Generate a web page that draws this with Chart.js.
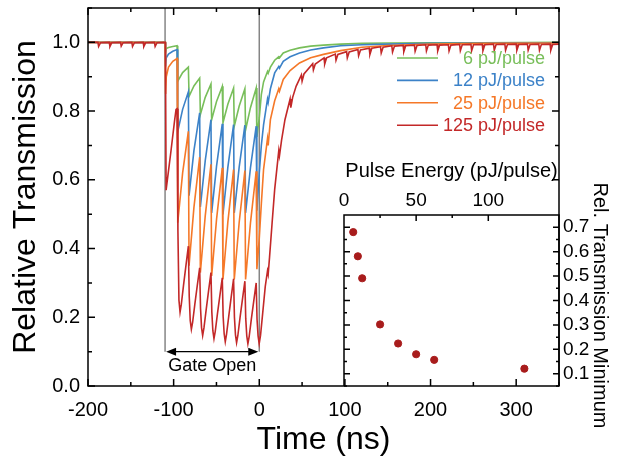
<!DOCTYPE html>
<html>
<head>
<meta charset="utf-8">
<script src="https://cdn.jsdelivr.net/npm/chart.js@4.4.0/dist/chart.umd.min.js"></script>
<style>
  html, body { margin: 0; padding: 0; background: #fff; }
  #wrap { position: relative; width: 623px; height: 461px; }
  #mainChart { position: absolute; left: 0; top: 0; }
  #insetChart { position: absolute; left: 330px; top: 150px; }
</style>
</head>
<body>
<div id="wrap">
  <canvas id="mainChart" width="623" height="461"></canvas>
  <canvas id="insetChart" width="293" height="290"></canvas>
</div>
<script>
Chart.defaults.font.family = '"Liberation Sans", Arial, sans-serif';
Chart.defaults.color = '#000';

// series labels / colours
const seriesLabels = ['6 pJ/pulse', '12 pJ/pulse', '25 pJ/pulse', '125 pJ/pulse'];
const seriesColors = ['#78be5a', '#3c82c8', '#f57828', '#c32828'];

// time axis (ns) shared by the 6, 12 and 25 pJ traces
const sawTimes = [-200, -110.0, -109.4, -108.6, -106, -101,
  -96, -95.2, -89.5,
  -82.8, -82.0, -76.3,
  -69.6, -68.8, -63.1,
  -56.4, -55.6, -49.9,
  -43.2, -42.4, -36.7,
  -30.0, -29.2, -23.5,
  -16.8, -16.0, -10.3,
  -3.6, -2.8,
  0, 2.4, 5, 9.6, 10.4, 13, 18, 22.8, 23.6, 28, 36, 47, 60, 75, 95, 120, 150, 200, 260, 350];

const green6 = [1.0, 1.0, 0.97, 0.982, 0.985, 0.988,
  0.99, 0.887, 0.912,
  0.928, 0.843, 0.873,
  0.896, 0.79, 0.84,
  0.879, 0.775, 0.828,
  0.872, 0.766, 0.82,
  0.867, 0.756, 0.814,
  0.865, 0.745, 0.81,
  0.867, 0.725,
  0.78, 0.848, 0.885, 0.915, 0.91, 0.928, 0.948, 0.958, 0.955, 0.969, 0.977, 0.984, 0.989, 0.992, 0.995, 0.997, 0.998, 0.999, 0.999, 1.0];

const blue12 = [1.0, 1.0, 0.93, 0.955, 0.966, 0.974,
  0.979, 0.741, 0.805,
  0.856, 0.554, 0.685,
  0.795, 0.521, 0.656,
  0.775, 0.504, 0.64,
  0.763, 0.499, 0.636,
  0.761, 0.504, 0.636,
  0.759, 0.504, 0.635,
  0.756, 0.51,
  0.62, 0.70, 0.76, 0.835, 0.825, 0.865, 0.911, 0.93, 0.925, 0.945, 0.958, 0.969, 0.978, 0.984, 0.99, 0.993, 0.995, 0.997, 0.998, 0.999];

const orange25 = [1.0, 1.0, 0.85, 0.9, 0.928, 0.945,
  0.953, 0.475, 0.62,
  0.741, 0.35, 0.52,
  0.666, 0.33, 0.495,
  0.645, 0.32, 0.485,
  0.635, 0.31, 0.477,
  0.63, 0.31, 0.475,
  0.627, 0.31, 0.474,
  0.625, 0.34,
  0.43, 0.53, 0.63, 0.72, 0.70, 0.775, 0.83, 0.865, 0.858, 0.892, 0.918, 0.94, 0.955, 0.965, 0.976, 0.986, 0.991, 0.995, 0.997, 0.998];

// 125 pJ trace has its own time axis (rounded minima + dips from every pulse)
const redTimes = [-200,
  -188.4, -187.6, -185.4,
  -175.2, -174.4, -172.2,
  -162.0, -161.2, -159.0,
  -148.8, -148.0, -145.8,
  -135.6, -134.8, -132.6,
  -122.4, -121.6, -119.4,
  -109.6, -108.8, -107.5, -103, -99, -97.2,
  -96, -95, -93.8, -92.5, -91, -88.5, -85.5,
  -82.8, -81.8, -80.6, -79.3, -77.8, -75.3, -72.3,
  -69.6, -68.6, -67.4, -66.1, -64.6, -62.1, -59.1,
  -56.4, -55.4, -54.2, -52.9, -51.4, -48.9, -45.9,
  -43.2, -42.2, -41.0, -39.7, -38.2, -35.7, -32.7,
  -30.0, -29.0, -27.8, -26.5, -25.0, -22.5, -19.5,
  -16.8, -15.8, -14.6, -13.3, -11.8, -9.3, -6.3,
  -3.6, -2.6, -1.4, -0.1,
  1.5, 4.0, 7.0, 9.6, 10.4, 12.0, 15.0, 18.0,
  22.8, 23.6, 26.0, 30.0,
  36.0, 36.8, 39.0, 43.0,
  49.2, 50.0, 52.2,
  62.4, 63.2, 65.4,
  75.6, 76.4, 78.6,
  88.8, 89.6, 91.8,
  102.0, 102.8, 105.0,
  115.2, 116.0, 118.2,
  128.4, 129.2, 131.4,
  141.6, 142.4, 144.6,
  154.8, 155.6, 157.8,
  168.0, 168.8, 171.0,
  181.2, 182.0, 184.2,
  194.4, 195.2, 197.4,
  207.6, 208.4, 210.6,
  220.8, 221.6, 223.8,
  234.0, 234.8, 237.0,
  247.2, 248.0, 250.2,
  260.4, 261.2, 263.4,
  273.6, 274.4, 276.6,
  286.8, 287.6, 289.8,
  300.0, 300.8, 303.0,
  313.2, 314.0, 316.2,
  326.4, 327.2, 329.4,
  339.6, 340.4, 342.6,
  350];

const red125 = [1.0,
  1.0, 0.988, 0.999,
  1.0, 0.988, 0.999,
  1.0, 0.989, 0.999,
  1.0, 0.988, 0.999,
  1.0, 0.988, 0.999,
  1.0, 0.988, 0.999,
  1.0, 0.57, 0.596, 0.686, 0.77, 0.805,
  0.807, 0.452, 0.25, 0.215, 0.238, 0.292, 0.353,
  0.407, 0.262, 0.19, 0.165, 0.186, 0.237, 0.294,
  0.344, 0.226, 0.17, 0.147, 0.169, 0.22, 0.279,
  0.33, 0.215, 0.161, 0.138, 0.159, 0.209, 0.265,
  0.315, 0.203, 0.152, 0.129, 0.151, 0.202, 0.261,
  0.312, 0.2, 0.149, 0.126, 0.147, 0.198, 0.255,
  0.305, 0.196, 0.146, 0.123, 0.144, 0.194, 0.25,
  0.30, 0.194, 0.146, 0.123,
  0.148, 0.212, 0.29, 0.335, 0.325, 0.375, 0.475, 0.572,
  0.685, 0.67, 0.715, 0.775,
  0.835, 0.81, 0.84, 0.872,
  0.905, 0.887, 0.908,
  0.938, 0.92, 0.937,
  0.955, 0.937, 0.955,
  0.966, 0.948, 0.965,
  0.973, 0.955, 0.972,
  0.979, 0.961, 0.978,
  0.983, 0.965, 0.983,
  0.987, 0.969, 0.986,
  0.99, 0.972, 0.989,
  0.991, 0.973, 0.99,
  0.992, 0.974, 0.991,
  0.993, 0.975, 0.992,
  0.993, 0.975, 0.992,
  0.993, 0.975, 0.992,
  0.994, 0.976, 0.993,
  0.994, 0.976, 0.993,
  0.994, 0.976, 0.993,
  0.995, 0.977, 0.994,
  0.995, 0.977, 0.994,
  0.995, 0.977, 0.994,
  0.995, 0.977, 0.994,
  0.995, 0.977, 0.994,
  0.995, 0.977, 0.994,
  0.995];

// gate window (ns) and label
const gateTimes = [-110, 0];
const gateLabel = 'Gate Open';

// inset: minimum transmission vs pulse energy
const pulseEnergy = [6.4, 9.6, 12.6, 25, 37.5, 50, 62.5, 125];
const transMin = [0.68, 0.581, 0.491, 0.302, 0.224, 0.18, 0.157, 0.121];
const insetXTitle = 'Pulse Energy (pJ/pulse)';
const insetYTitle = 'Rel. Transmission Minimum';

const toXY = (xs, ys) => xs.map((x, i) => ({ x: x, y: ys[i] }));
const font = size => size + 'px "Liberation Sans", Arial, sans-serif';

// frame, inward ticks, gate marker and legend for the main plot
const mainDecor = {
  id: 'mainDecor',
  beforeDatasetsDraw(chart) {
    const { ctx, chartArea: a, scales: { x, y } } = chart;
    ctx.save();
    ctx.strokeStyle = '#858585';
    ctx.lineWidth = 1.5;
    gateTimes.forEach(t => {
      const px = x.getPixelForValue(t);
      ctx.beginPath();
      ctx.moveTo(px, a.top);
      ctx.lineTo(px, y.getPixelForValue(0.1));
      ctx.stroke();
    });
    ctx.restore();
  },
  afterDraw(chart) {
    const { ctx, chartArea: a, scales: { x, y } } = chart;
    ctx.save();
    ctx.strokeStyle = '#000';
    ctx.lineWidth = 1.5;
    ctx.strokeRect(a.left, a.top, a.right - a.left, a.bottom - a.top);
    ctx.beginPath();
    x.ticks.forEach(t => {
      const px = x.getPixelForValue(t.value);
      const len = t.value % 100 === 0 ? 7 : 4;
      ctx.moveTo(px, a.bottom); ctx.lineTo(px, a.bottom - len);
      ctx.moveTo(px, a.top); ctx.lineTo(px, a.top + len);
    });
    y.ticks.forEach(t => {
      const py = y.getPixelForValue(t.value);
      const len = Math.round(t.value * 10) % 2 === 0 ? 7 : 4;
      ctx.moveTo(a.left, py); ctx.lineTo(a.left + len, py);
      if (t.value > 0.55) { ctx.moveTo(a.right, py); ctx.lineTo(a.right - len, py); }
    });
    ctx.stroke();

    // double arrow under the gate window
    const x1 = x.getPixelForValue(gateTimes[0]);
    const x2 = x.getPixelForValue(gateTimes[1]);
    const ay = y.getPixelForValue(0.1);
    ctx.lineWidth = 1.3;
    ctx.beginPath();
    ctx.moveTo(x1 + 4, ay); ctx.lineTo(x2 - 4, ay);
    ctx.stroke();
    ctx.fillStyle = '#000';
    ctx.beginPath();
    ctx.moveTo(x1 + 1, ay); ctx.lineTo(x1 + 11, ay - 4); ctx.lineTo(x1 + 11, ay + 4); ctx.closePath();
    ctx.moveTo(x2 - 1, ay); ctx.lineTo(x2 - 11, ay - 4); ctx.lineTo(x2 - 11, ay + 4); ctx.closePath();
    ctx.fill();
    ctx.font = font(18);
    ctx.textAlign = 'center';
    ctx.textBaseline = 'middle';
    ctx.fillText(gateLabel, (x1 + x2) / 2, y.getPixelForValue(0.058));

    // legend
    ctx.textAlign = 'right';
    ctx.lineWidth = 1.6;
    seriesLabels.forEach((lab, i) => {
      const ly = a.top + 50 + i * 22.4;
      ctx.strokeStyle = seriesColors[i];
      ctx.beginPath();
      ctx.moveTo(a.right - 162, ly); ctx.lineTo(a.right - 121, ly);
      ctx.stroke();
      ctx.fillStyle = seriesColors[i];
      ctx.fillText(lab, a.right - 14, ly + 1);
    });
    ctx.restore();
  }
};

const lineStyle = { borderWidth: 1.6, pointRadius: 0, tension: 0, fill: false };

new Chart(document.getElementById('mainChart'), {
  type: 'line',
  data: {
    datasets: [
      Object.assign({ label: seriesLabels[0], data: toXY(sawTimes, green6), borderColor: seriesColors[0], order: 3 }, lineStyle),
      Object.assign({ label: seriesLabels[1], data: toXY(sawTimes, blue12), borderColor: seriesColors[1], order: 2 }, lineStyle),
      Object.assign({ label: seriesLabels[2], data: toXY(sawTimes, orange25), borderColor: seriesColors[2], order: 1 }, lineStyle),
      Object.assign({ label: seriesLabels[3], data: toXY(redTimes, red125), borderColor: seriesColors[3], order: 0 }, lineStyle)
    ]
  },
  options: {
    responsive: false,
    animation: false,
    layout: { padding: { top: 8, right: 64, left: 0, bottom: 0 } },
    plugins: { legend: { display: false }, tooltip: { enabled: false } },
    scales: {
      x: {
        type: 'linear', min: -200, max: 350,
        grid: { display: false, drawTicks: false },
        border: { display: false },
        ticks: {
          stepSize: 50, autoSkip: false, maxRotation: 0, padding: 12,
          font: { size: 20 },
          callback: v => (v % 100 === 0 ? String(v) : '')
        },
        title: { display: true, text: 'Time (ns)', font: { size: 32 }, padding: { top: 0, bottom: 2 } },
        afterFit: s => { s.height = 75; s.paddingLeft = 0; s.paddingRight = 0; }
      },
      y: {
        min: 0, max: 1.1,
        grid: { display: false, drawTicks: false },
        border: { display: false },
        ticks: {
          stepSize: 0.1, autoSkip: false, padding: 8,
          font: { size: 20 },
          callback: v => { const k = Math.round(v * 10); return k % 2 === 0 && k <= 10 ? (k / 10).toFixed(1) : ''; }
        },
        title: { display: true, text: 'Relative Transmission', font: { size: 32 }, padding: { top: 7, bottom: 0 } },
        afterFit: s => { s.width = 88; s.paddingTop = 0; s.paddingBottom = 0; }
      }
    }
  },
  plugins: [mainDecor]
});

// inset frame, ticks and right-hand title
const insetDecor = {
  id: 'insetDecor',
  afterDraw(chart) {
    const { ctx, chartArea: a, scales: { x, y } } = chart;
    ctx.save();
    ctx.strokeStyle = '#000';
    ctx.lineWidth = 1.5;
    ctx.beginPath();
    ctx.moveTo(a.left, a.bottom); ctx.lineTo(a.left, a.top); ctx.lineTo(a.right, a.top); ctx.lineTo(a.right, a.bottom);
    x.ticks.forEach(t => {
      const px = x.getPixelForValue(t.value);
      const len = Math.round(t.value) % 50 === 0 ? 6 : 3;
      ctx.moveTo(px, a.top); ctx.lineTo(px, a.top + len);
    });
    y.ticks.forEach(t => {
      const py = y.getPixelForValue(t.value);
      const len = Math.round(t.value * 100) % 10 === 0 ? 6 : 3;
      ctx.moveTo(a.left, py); ctx.lineTo(a.left + len, py);
      ctx.moveTo(a.right, py); ctx.lineTo(a.right - len, py);
    });
    ctx.stroke();
    ctx.translate(a.right + 41, (a.top + a.bottom) / 2 + 5);
    ctx.rotate(Math.PI / 2);
    ctx.font = font(20);
    ctx.fillStyle = '#000';
    ctx.textAlign = 'center';
    ctx.textBaseline = 'middle';
    ctx.fillText(insetYTitle, 0, 0);
    ctx.restore();
  }
};

new Chart(document.getElementById('insetChart'), {
  type: 'scatter',
  data: {
    datasets: [{
      data: toXY(pulseEnergy, transMin),
      backgroundColor: '#a81c1c', borderColor: '#a81c1c',
      pointRadius: 3.6, pointHoverRadius: 3.6
    }]
  },
  options: {
    responsive: false,
    animation: false,
    layout: { padding: { top: 0, right: 0, left: 14, bottom: 54 } },
    plugins: { legend: { display: false }, tooltip: { enabled: false } },
    scales: {
      x: {
        type: 'linear', position: 'top', min: 0, max: 149,
        grid: { display: false, drawTicks: false },
        border: { display: false },
        ticks: {
          stepSize: 25, autoSkip: false, maxRotation: 0, padding: 3,
          font: { size: 19 },
          callback: v => (Math.round(v) % 50 === 0 ? String(Math.round(v)) : '')
        },
        afterBuildTicks: s => { s.ticks = s.ticks.filter(t => Math.round(t.value) % 25 === 0); },
        title: { display: true, text: insetXTitle, font: { size: 20 }, padding: { top: 9, bottom: 0 } },
        afterFit: s => { s.height = 65; }
      },
      y: {
        type: 'linear', position: 'right', min: 0.05, max: 0.75,
        grid: { display: false, drawTicks: false },
        border: { display: false },
        ticks: {
          stepSize: 0.05, autoSkip: false, padding: 4,
          font: { size: 19 },
          callback: v => { const k = Math.round(v * 100); return k % 10 === 0 ? (k / 100).toFixed(1) : ''; }
        },
        afterFit: s => { s.width = 64; }
      }
    }
  },
  plugins: [insetDecor]
});
</script>
</body>
</html>
